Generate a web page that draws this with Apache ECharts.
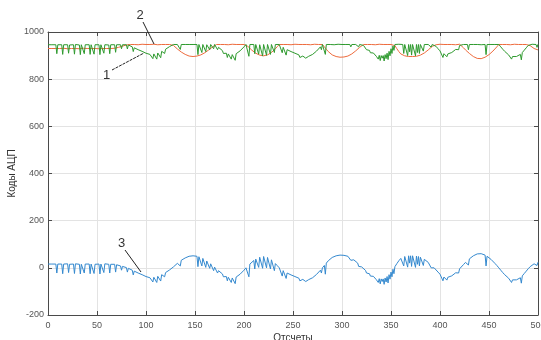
<!DOCTYPE html>
<html>
<head>
<meta charset="utf-8">
<script src="https://cdn.jsdelivr.net/npm/echarts@6/dist/echarts.min.js"></script>
<style>html,body{margin:0;padding:0;background:#fff}#c{width:541px;height:340px}</style>
</head>
<body>
<div id="c"></div>
<script>
// sample step along the x axis (Отсчеты) for the base arrays
const X_STEP = 2;
const X_TICKS = [0, 50, 100, 150, 200, 250, 300, 350, 400, 450, 500];
const Y_TICKS = [-200, 0, 200, 400, 600, 800, 1000];

// series 2 (orange), sampled every X_STEP
const series2 = [
930,929,930,931,930,929,930,930,931,930,
929,930,930,931,930,930,929,930,931,930,
930,929,930,931,930,930,929,930,930,931,
930,929,930,930,931,933,935,938,940,943,
945,946,947,948,947,947,946,947,948,947,
947,946,947,947,948,947,946,947,947,948,
947,946,947,947,943,936,928,921,915,910,
905,901,898,897,896,896,898,900,903,907,
912,918,924,930,937,944,947,946,947,948,
947,947,946,947,948,947,947,946,947,948,
947,947,939,931,923,916,910,905,902,900,
899,900,903,907,913,920,929,938,947,946,
947,948,947,947,946,947,948,947,947,946,
947,948,947,947,946,947,948,947,947,946,
947,937,927,917,909,903,899,896,894,893,
893,894,895,898,902,907,913,920,927,935,
943,947,946,947,948,947,947,946,947,948,
947,947,946,947,948,947,947,942,929,917,
907,902,899,897,896,896,896,896,897,899,
902,906,911,917,924,932,939,947,946,947,
948,947,947,946,947,948,947,947,946,947,
948,943,933,924,916,909,902,896,891,888,
886,887,889,893,898,904,911,919,928,937,
947,946,947,948,947,947,946,947,948,947,
947,946,947,948,947,947,942,935,930,926,
924
];

// series 1 (green), sampled every X_STEP
const series1 = [
946,947,946,945,946,946,947,946,946,946,
946,945,946,946,947,946,945,946,946,946,
947,946,946,945,946,946,946,946,947,946,
946,945,946,946,946,946,946,946,946,946,
946,945,941,937,933,929,925,922,918,914,
910,907,905,905,907,909,911,914,918,922,
927,933,938,944,947,948,947,947,947,948,
947,946,947,948,947,947,947,947,947,947,
947,946,947,947,947,947,943,935,928,921,
915,910,907,905,904,905,908,913,920,928,
937,947,947,947,948,947,947,947,946,947,
947,947,947,947,947,947,947,946,947,941,
935,929,925,921,917,914,910,907,903,900,
898,896,896,897,900,905,911,919,927,937,
947,947,947,948,947,947,946,947,948,947,
947,948,947,947,947,947,946,947,947,947,
947,943,936,929,922,916,911,907,904,901,
900,900,904,910,918,929,941,947,947,948,
947,947,947,947,947,947,947,947,947,947,
947,946,947,946,947,947,947,947,939,929,
920,913,908,906,907,909,913,919,926,934,
943,947,947,948,947,947,946,947,948,947,
947,946,947,947,947,948,947,946,947,947,
947,937,927,918,910,903,899,896,895,896,
899,905,913,923,933,943,947,948,947,947,
948
];

// series 3 (blue), sampled every X_STEP
const series3 = [
16,17,16,15,16,16,17,16,16,16,
17,15,16,16,17,16,15,15,16,16,
17,16,16,15,15,16,16,16,17,17,
16,15,15,16,15,13,11,8,6,3,
1,-2,-6,-10,-14,-18,-22,-25,-29,-33,
-37,-40,-42,-42,-40,-38,-36,-33,-29,-25,
-20,-14,-9,-3,4,11,19,26,32,37,
42,46,49,50,51,51,49,47,44,40,
35,29,23,17,10,3,-4,-12,-19,-26,
-32,-37,-40,-42,-43,-42,-39,-34,-27,-19,
-10,0,8,16,24,31,37,42,45,47,
48,47,44,40,34,27,18,9,0,-6,
-12,-18,-22,-26,-30,-33,-37,-40,-44,-47,
-49,-51,-51,-50,-47,-42,-36,-28,-20,-10,
0,10,20,30,38,44,48,51,53,54,
54,53,52,49,45,40,34,27,20,12,
4,-4,-11,-18,-25,-31,-36,-40,-43,-46,
-47,-47,-43,-37,-29,-18,-6,5,18,30,
40,45,48,50,51,51,51,51,50,48,
45,41,36,30,23,15,8,0,-8,-18,
-27,-34,-39,-41,-40,-38,-34,-28,-21,-13,
-4,4,14,23,31,38,45,51,56,59,
61,60,58,54,49,43,36,28,19,10,
0,-10,-20,-29,-37,-44,-48,-51,-52,-51,
-48,-42,-34,-24,-14,-4,5,12,17,21,
24
];

// short downward spikes (samples between the base samples)
const spikeX = [
9,15,21,27,33,37,43,47,53,57,63,69,75,81,87,
107,111,115,119,135,
153,157,161,165,169,173,179,183,187,191,
205,211,215,219,223,227,231,239,243,
257,263,279,283,309,317,
325,329,335,337,339,341,343,345,347,349,351,353,
363,367,369,371,375,377,379,383,
391,403,407,419,429,447,463,473,483,499
];
const spikes1 = [
908,905,910,906,904,908,905,906,904,910,908,914,929,928,917,
887,885,891,909,926,
904,913,917,925,929,925,909,892,885,880,
897,908,906,898,901,905,913,912,902,
892,889,925,905,937,937,
925,912,897,885,879,889,877,887,883,899,909,922,
909,900,916,902,899,913,909,919,
936,892,895,925,925,904,929,885,882,935
];
const spikes3 = [
-22,-25,-20,-24,-26,-22,-25,-24,-26,-20,-22,-18,-10,-18,-30,
-60,-62,-56,-38,8,
5,8,2,-2,-12,-22,-38,-55,-62,-67,
-38,-5,2,-2,0,-5,-12,-35,-45,
-55,-58,-22,-27,32,6,
-22,-35,-50,-62,-68,-58,-70,-60,-64,-48,-38,-25,
8,3,20,6,2,15,8,10,
0,-55,-52,-22,12,8,-18,-62,-65,10
];

function buildSeries(base, sx, sv) {
  const pts = base.map((v, i) => [i * X_STEP, v]);
  if (sx) sx.forEach((x, k) => pts.push([x, sv[k]]));
  return pts.sort((a, b) => a[0] - b[0]);
}

const chart = echarts.init(document.getElementById('c'), null, {renderer: 'canvas'});
const axisLineColor = '#4a4a4a';
const labelFont = {fontFamily: 'Liberation Sans', fontSize: 9, color: '#555'};
const xMin = X_TICKS[0], xMax = X_TICKS[X_TICKS.length - 1], xInt = X_TICKS[1] - X_TICKS[0];
const yMin = Y_TICKS[0], yMax = Y_TICKS[Y_TICKS.length - 1], yInt = Y_TICKS[1] - Y_TICKS[0];

chart.setOption({
  animation: false,
  backgroundColor: '#fff',
  grid: {left: 48, right: 3, top: 32, bottom: 25, containLabel: false, outerBoundsMode: 'none'},
  xAxis: [{
    type: 'value', min: xMin, max: xMax, interval: xInt,
    name: 'Отсчеты', nameLocation: 'middle', nameGap: 18, nameMoveOverlap: false,
    nameTextStyle: {fontFamily: 'Liberation Sans', fontSize: 10, color: '#333'},
    axisLine: {show: true, onZero: false, lineStyle: {color: axisLineColor, width: 1}},
    axisTick: {show: true, inside: true, length: 4, lineStyle: {color: axisLineColor}},
    axisLabel: Object.assign({margin: 6, showMaxLabel: true, hideOverlap: false, formatter: v => String(v)}, labelFont),
    splitLine: {show: true, lineStyle: {color: '#e3e3e3', width: 1}}
  }, {
    type: 'value', position: 'top', min: xMin, max: xMax, interval: xInt,
    axisLine: {show: true, onZero: false, lineStyle: {color: axisLineColor, width: 1}},
    axisTick: {show: true, inside: true, length: 4, lineStyle: {color: axisLineColor}},
    axisLabel: {show: false}, splitLine: {show: false}
  }],
  yAxis: [{
    type: 'value', min: yMin, max: yMax, interval: yInt,
    name: 'Коды АЦП', nameLocation: 'middle', nameGap: 31, nameMoveOverlap: false,
    nameTextStyle: {fontFamily: 'Liberation Sans', fontSize: 10, color: '#333'},
    axisLine: {show: true, onZero: false, lineStyle: {color: axisLineColor, width: 1}},
    axisTick: {show: true, inside: true, length: 4, lineStyle: {color: axisLineColor}},
    axisLabel: Object.assign({margin: 4, formatter: v => String(v)}, labelFont),
    splitLine: {show: true, lineStyle: {color: '#e3e3e3', width: 1}}
  }, {
    type: 'value', position: 'right', min: yMin, max: yMax, interval: yInt,
    axisLine: {show: true, onZero: false, lineStyle: {color: axisLineColor, width: 1}},
    axisTick: {show: true, inside: true, length: 4, lineStyle: {color: axisLineColor}},
    axisLabel: {show: false}, splitLine: {show: false}
  }],
  series: [
    {name: '2', type: 'line', data: buildSeries(series2), showSymbol: false, symbol: 'none',
     lineStyle: {color: '#EE6B3D', width: 1}, z: 2},
    {name: '1', type: 'line', data: buildSeries(series1, spikeX, spikes1), showSymbol: false, symbol: 'none',
     lineStyle: {color: '#2E9A2E', width: 1}, z: 3},
    {name: '3', type: 'line', data: buildSeries(series3, spikeX, spikes3), showSymbol: false, symbol: 'none',
     lineStyle: {color: '#3489CF', width: 1}, z: 3}
  ],
  graphic: [
    {type: 'line', shape: {x1: 143, y1: 22, x2: 154, y2: 44}, style: {stroke: '#222', lineWidth: 1}, z: 10},
    {type: 'text', style: {text: '2', x: 140, y: 15.5, align: 'center', verticalAlign: 'middle', font: '13px "Liberation Sans"', fill: '#333'}, z: 10},
    {type: 'line', shape: {x1: 112, y1: 70, x2: 144, y2: 53}, style: {stroke: '#222', lineWidth: 1, lineDash: [3, 1]}, z: 10},
    {type: 'text', style: {text: '1', x: 106.5, y: 75.5, align: 'center', verticalAlign: 'middle', font: '13px "Liberation Sans"', fill: '#333'}, z: 10},
    {type: 'line', shape: {x1: 125, y1: 250, x2: 141, y2: 272}, style: {stroke: '#222', lineWidth: 1}, z: 10},
    {type: 'text', style: {text: '3', x: 121.5, y: 243.5, align: 'center', verticalAlign: 'middle', font: '13px "Liberation Sans"', fill: '#333'}, z: 10}
  ]
});
</script>
</body>
</html>
